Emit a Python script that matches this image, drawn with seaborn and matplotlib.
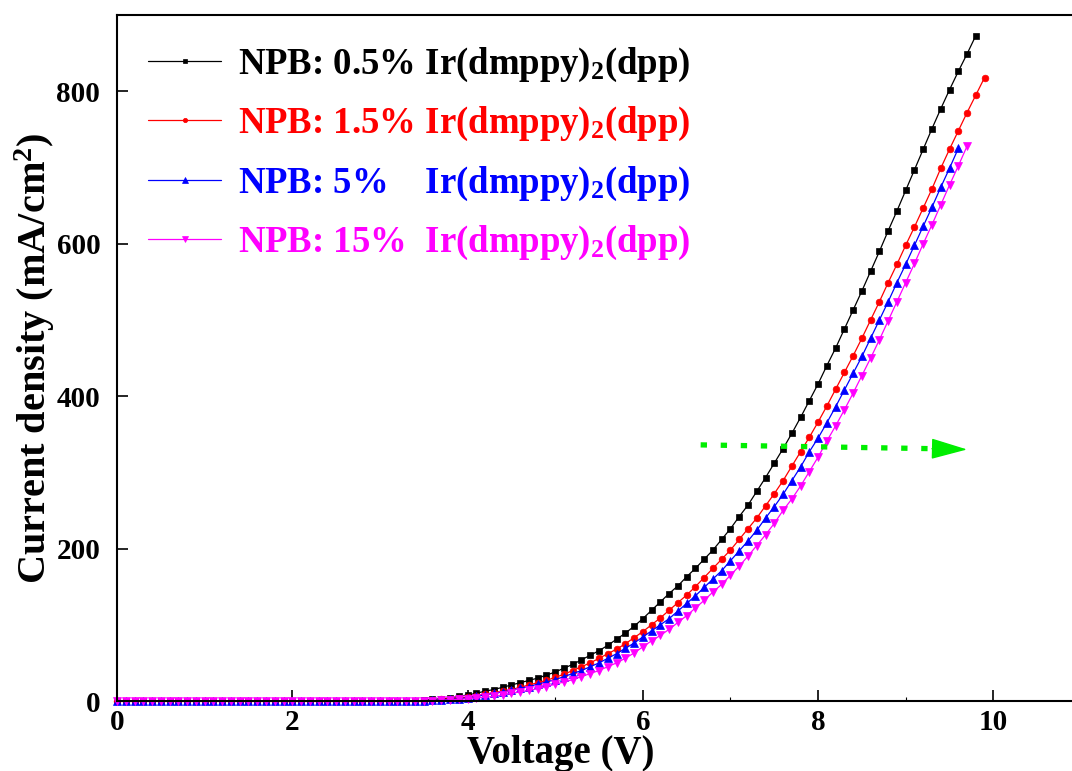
import matplotlib
matplotlib.use('Agg')
import matplotlib.pyplot as plt
import seaborn as sns

# bias voltage grid (V), 0.1 V steps as measured
voltage = [
    0.0, 0.1, 0.2, 0.3, 0.4, 0.5, 0.6, 0.7, 0.8, 0.9,
    1.0, 1.1, 1.2, 1.3, 1.4, 1.5, 1.6, 1.7, 1.8, 1.9,
    2.0, 2.1, 2.2, 2.3, 2.4, 2.5, 2.6, 2.7, 2.8, 2.9,
    3.0, 3.1, 3.2, 3.3, 3.4, 3.5, 3.6, 3.7, 3.8, 3.9,
    4.0, 4.1, 4.2, 4.3, 4.4, 4.5, 4.6, 4.7, 4.8, 4.9,
    5.0, 5.1, 5.2, 5.3, 5.4, 5.5, 5.6, 5.7, 5.8, 5.9,
    6.0, 6.1, 6.2, 6.3, 6.4, 6.5, 6.6, 6.7, 6.8, 6.9,
    7.0, 7.1, 7.2, 7.3, 7.4, 7.5, 7.6, 7.7, 7.8, 7.9,
    8.0, 8.1, 8.2, 8.3, 8.4, 8.5, 8.6, 8.7, 8.8, 8.9,
    9.0, 9.1, 9.2, 9.3, 9.4, 9.5, 9.6, 9.7, 9.8, 9.9,
]

# current density (mA/cm2)
j_05 = [
    0, 0, 0, 0, 0, 0, 0, 0, 0, 0, 0, 0, 0, 0, 0, 0, 0, 0,
    0, 0, 0, 0, 0, 0, 0, 0, 0, 0, 0, 0, 0, 0, 0, 0, 0,
    1, 2, 3, 4, 6, 8, 10, 13, 15, 18, 21, 24, 27, 30, 34,
    38, 43, 48, 54, 60, 66, 73, 81, 89, 98,
    108, 119, 130, 141, 151, 163, 174, 186, 198, 212,
    226, 242, 257, 275, 293, 312, 331, 351, 372, 394,
    416, 440, 463, 488, 513, 538, 564, 590, 617, 643,
    670, 697, 724, 751, 777, 802, 826, 849, 873,
]
j_15 = [
    0, 0, 0, 0, 0, 0, 0, 0, 0, 0, 0, 0, 0, 0, 0, 0, 0, 0,
    0, 0, 0, 0, 0, 0, 0, 0, 0, 0, 0, 0, 0, 0, 0, 0, 0,
    0.5, 1, 2, 3, 4, 5, 7, 9, 11, 13, 15, 18, 21, 24, 27,
    31, 35, 40, 45, 50, 56, 62, 68, 75, 83,
    91, 100, 109, 119, 129, 139, 150, 162, 174, 186,
    198, 212, 226, 240, 256, 272, 289, 308, 327, 346,
    366, 387, 409, 431, 453, 476, 500, 524, 549, 573,
    598, 622, 647, 672, 699, 724, 748, 772, 795, 818,
]
j_5 = [
    0, 0, 0, 0, 0, 0, 0, 0, 0, 0, 0, 0, 0, 0, 0, 0, 0, 0,
    0, 0, 0, 0, 0, 0, 0, 0, 0, 0, 0, 0, 0, 0, 0, 0, 0,
    0.5, 1, 1.5, 2, 3, 4, 6, 8, 10, 12, 14, 17, 19, 22, 25,
    28, 32, 36, 40, 45, 50, 56, 62, 69, 76,
    84, 92, 100, 108, 118, 128, 138, 149, 160, 171,
    184, 197, 210, 224, 240, 255, 271, 289, 307, 327,
    345, 365, 386, 408, 430, 452, 476, 500, 524, 549,
    573, 598, 623, 648, 674, 699, 725,
]
j_15pc = [
    0, 0, 0, 0, 0, 0, 0, 0, 0, 0, 0, 0, 0, 0, 0, 0, 0, 0,
    0, 0, 0, 0, 0, 0, 0, 0, 0, 0, 0, 0, 0, 0, 0, 0, 0,
    0, 0.5, 1, 1.5, 2, 3, 4, 5, 6, 8, 10, 12, 14, 16, 19,
    22, 25, 28, 32, 36, 40, 45, 50, 56, 63,
    71, 79, 86, 94, 103, 112, 122, 132, 143, 153,
    165, 177, 190, 204, 218, 233, 250, 265, 282, 301,
    320, 341, 361, 382, 404, 427, 450, 474, 499, 524,
    549, 574, 600, 625, 651, 677, 702, 728,
]

labels = [
    'NPB: 0.5% Ir(dmppy)$_2$(dpp)',
    'NPB: 1.5% Ir(dmppy)$_2$(dpp)',
    'NPB: 5%    Ir(dmppy)$_2$(dpp)',
    'NPB: 15%  Ir(dmppy)$_2$(dpp)',
]
series = [j_05, j_15, j_5, j_15pc]
colors = ['#000000', '#ff0000', '#0000ff', '#ff00ff']
markers = ['s', 'o', '^', 'v']
msizes = [4.5, 4.8, 5.6, 5.6]

sns.set_style('ticks')
plt.rcParams['font.family'] = ['Liberation Serif', 'DejaVu Serif']
plt.rcParams['font.weight'] = 'bold'
plt.rcParams['axes.labelweight'] = 'bold'
plt.rcParams['mathtext.fontset'] = 'custom'
plt.rcParams['mathtext.rm'] = 'Liberation Serif:bold'
plt.rcParams['mathtext.it'] = 'Liberation Serif:bold'
plt.rcParams['mathtext.bf'] = 'Liberation Serif:bold'
plt.rcParams['mathtext.default'] = 'rm'
for key in ['text.color', 'axes.labelcolor', 'axes.edgecolor',
            'xtick.color', 'ytick.color']:
    plt.rcParams[key] = 'black'

fig = plt.figure(figsize=(10.72, 7.71), dpi=100)
ax = fig.add_axes([117 / 1072, 70 / 771, 964 / 1072, 686 / 771])

for j, lab, c, m, ms in zip(series, labels, colors, markers, msizes):
    sns.lineplot(x=voltage[:len(j)], y=j, ax=ax, color=c, lw=0.9,
                 marker=m, markersize=ms, markeredgecolor=c,
                 markeredgewidth=0.5, label=lab, clip_on=False)

# green arrow showing the shift to higher voltage
ax.plot([6.66, 9.33], [336, 331], color='#00ee00', lw=3.8,
        ls=(0, (1.2, 2.6)), solid_capstyle='butt')
ax.annotate('', xy=(9.70, 330), xytext=(9.30, 331),
            arrowprops=dict(arrowstyle='-|>,head_length=1.15,head_width=0.33',
                            color='#00ee00', lw=1, mutation_scale=20,
                            shrinkA=0, shrinkB=0))

ax.set_xlim(0, 11)
ax.set_ylim(0, 900)
ax.set_xticks([0, 2, 4, 6, 8, 10])
ax.set_xticks([1, 3, 5, 7, 9], minor=True)
ax.set_yticks([0, 200, 400, 600, 800])
ax.tick_params(which='major', direction='in', length=8, width=1.2,
               labelsize=21)
ax.tick_params(which='minor', direction='in', length=3, width=0.8)
ax.tick_params(axis='x', pad=6)
ax.tick_params(axis='y', pad=12)
for sp in ax.spines.values():
    sp.set_linewidth(1.5)

ax.set_xlabel('Voltage (V)', fontsize=28)
ax.set_ylabel('Current density (mA/cm$^2$)', fontsize=29)
ax.xaxis.set_label_coords((561 - 117) / 964, -0.049)
ax.yaxis.set_label_coords(-0.062, 0.5)

ax.legend(loc='upper left', bbox_to_anchor=(0.032, 0.955), frameon=False,
          fontsize=26.5, handlelength=2.0, handletextpad=0.45,
          labelspacing=0.57, markerscale=0.65, labelcolor='linecolor',
          borderaxespad=0, borderpad=0)

fig.savefig('out.png', dpi=100)
